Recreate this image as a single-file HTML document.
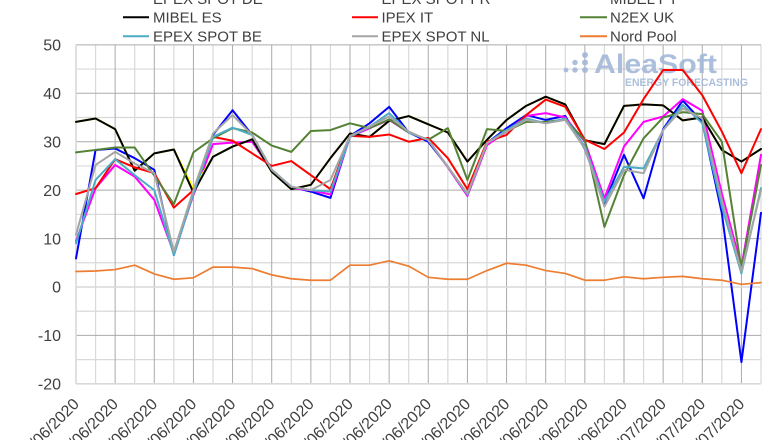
<!DOCTYPE html>
<html><head><meta charset="utf-8"><style>
html,body{margin:0;padding:0;background:#fff;width:780px;height:440px;overflow:hidden;}
svg{display:block;overflow:hidden;}
text{font-family:"Liberation Sans",Arial,sans-serif;}
</style></head><body>
<svg width="780" height="440" viewBox="0 0 780 440" xmlns="http://www.w3.org/2000/svg">
<defs><clipPath id="pg"><rect x="0" y="0" width="780" height="440"/></clipPath></defs>
<g clip-path="url(#pg)">
<rect width="780" height="440" fill="#fff"/>
<g transform="translate(76,287) scale(19.5714,-4.843)" fill="none">
  <path vector-effect="non-scaling-stroke" stroke="#d9d9d9" stroke-width="1.2" d="M0 45H35M0 35H35M0 25H35M0 15H35M0 5H35M0 -5H35M0 -15H35
  M1 -20V50M3 -20V50M5 -20V50M7 -20V50M9 -20V50M11 -20V50M13 -20V50M15 -20V50M17 -20V50M19 -20V50M21 -20V50M23 -20V50M25 -20V50M27 -20V50M29 -20V50M31 -20V50M33 -20V50M35 -20V50"/>
  <path vector-effect="non-scaling-stroke" stroke="#ababab" stroke-width="1" d="M0 50H35M0 40H35M0 30H35M0 20H35M0 10H35M0 -10H35
  M2 -20V50M4 -20V50M6 -20V50M8 -20V50M10 -20V50M12 -20V50M14 -20V50M16 -20V50M18 -20V50M20 -20V50M22 -20V50M24 -20V50M26 -20V50M28 -20V50M30 -20V50M32 -20V50M34 -20V50"/>
  <path vector-effect="non-scaling-stroke" stroke="#d9d9d9" stroke-width="1.6" d="M0 0H35M0 -20H35M0 -20V50"/>
</g>
<g fill="#a3b8d8" opacity="0.9">
  <circle cx="566" cy="70" r="2.4"/>
  <circle cx="575" cy="62.5" r="2.7"/><circle cx="575" cy="70" r="2.7"/>
  <circle cx="585" cy="55" r="3"/><circle cx="585" cy="62.5" r="3"/><circle cx="585" cy="70" r="3"/>
  <text x="594" y="73" font-size="26.5" font-weight="bold" textLength="123" lengthAdjust="spacingAndGlyphs">AleaSoft</text>
  <text x="625" y="86" font-size="11" font-weight="bold" textLength="123" lengthAdjust="spacingAndGlyphs">ENERGY FORECASTING</text>
</g>
<g transform="translate(76,287) scale(19.5714,-4.843)" fill="none" stroke-linejoin="round" stroke-linecap="round">
  <polyline vector-effect="non-scaling-stroke" stroke="#0000ff" stroke-width="2" points="0,5.9 1,28.3 2,28.6 3,26.6 4,24.2 5,6.6 6,19.3 7,31.4 8,36.5 9,31.4 10,24.2 11,20.7 12,19.7 13,18.4 14,31.2 15,33.8 16,37.2 17,31.9 18,30.0 19,24.8 20,19.1 21,29.7 22,32.8 23,35.5 24,34.5 25,35.3 26,28.5 27,17.3 28,27.3 29,18.3 30,32.6 31,38.5 32,34.1 33,15.2 34,-15.5 35,15.3"/>
  <polyline vector-effect="non-scaling-stroke" stroke="#ff00ff" stroke-width="2" points="0,9.5 1,20.4 2,25.2 3,22.8 4,18.0 5,7.0 6,19.0 7,29.5 8,29.8 9,30.0 10,24.0 11,20.4 12,20.0 13,19.1 14,31.0 15,32.8 16,34.5 17,31.9 18,30.4 19,24.7 20,18.8 21,29.3 22,32.1 23,35.3 24,35.9 25,35.0 26,30.0 27,18.3 28,29.0 29,34.1 30,35.2 31,38.8 32,36.4 33,19.3 34,4.2 35,27.3"/>
  <polyline vector-effect="non-scaling-stroke" stroke="#ffff00" stroke-width="2" points="0,34.1 1,34.8 2,32.6 3,24.0 4,27.6 5,28.4 6,20.3 7,26.9 8,29.0 9,30.5 10,23.8 11,20.2 12,21.1 13,26.6 14,31.7 15,31.0 16,34.3 17,35.3 18,33.6 19,31.9 20,25.9 21,30.4 22,34.5 23,37.4 24,39.3 25,37.7 26,30.3 27,29.5 28,37.4 29,37.7 30,37.5 31,34.4 32,35.0 33,28.3 34,25.9 35,28.5"/>
  <polyline vector-effect="non-scaling-stroke" stroke="#000000" stroke-width="2" points="0,34.1 1,34.8 2,32.6 3,24.0 4,27.6 5,28.4 6,19.5 7,26.9 8,29.0 9,30.5 10,23.8 11,20.2 12,21.1 13,26.6 14,31.7 15,31.0 16,34.3 17,35.3 18,33.6 19,31.9 20,25.9 21,30.4 22,34.5 23,37.4 24,39.3 25,37.7 26,30.3 27,29.5 28,37.4 29,37.7 30,37.5 31,34.4 32,35.0 33,28.3 34,25.9 35,28.5"/>
  <polyline vector-effect="non-scaling-stroke" stroke="#ff0000" stroke-width="2" points="0,19.2 1,20.4 2,26.4 3,24.7 4,23.5 5,16.4 6,20.0 7,31.0 8,30.2 9,27.6 10,25.0 11,26.0 12,23.1 13,20.2 14,31.2 15,31.0 16,31.5 17,30.0 18,30.8 19,26.6 20,20.2 21,30.0 22,31.4 23,35.5 24,38.7 25,37.2 26,30.4 27,28.5 28,31.9 29,38.8 30,44.8 31,44.8 32,39.6 33,32.1 34,23.5 35,32.6"/>
  <polyline vector-effect="non-scaling-stroke" stroke="#548235" stroke-width="2" points="0,27.8 1,28.3 2,28.8 3,28.8 4,23.0 5,17.1 6,27.8 7,30.7 8,32.8 9,31.9 10,29.2 11,27.9 12,32.2 13,32.4 14,33.8 15,32.8 16,34.6 17,31.9 18,30.4 19,32.8 20,22.1 21,32.6 22,32.2 23,34.1 24,34.1 25,34.6 26,30.3 27,12.4 28,23.1 29,30.7 30,35.0 31,36.1 32,35.7 33,30.0 34,3.8 35,25.2"/>
  <polyline vector-effect="non-scaling-stroke" stroke="#4bacc6" stroke-width="2" points="0,9.0 1,22.1 2,26.4 3,23.1 4,20.0 5,6.6 6,19.3 7,31.0 8,32.9 9,31.4 10,24.2 11,20.7 12,20.0 13,19.7 14,31.0 15,33.1 16,35.9 17,31.9 18,30.4 19,24.8 20,19.1 21,29.7 22,32.4 23,34.8 24,33.8 25,34.8 26,29.0 27,17.6 28,24.8 29,24.5 30,32.4 31,37.6 32,33.8 33,16.6 34,2.8 35,20.4"/>
  <polyline vector-effect="non-scaling-stroke" stroke="#a5a5a5" stroke-width="2" points="0,10.8 1,25.2 2,27.9 3,25.5 4,23.5 5,7.3 6,20.0 7,31.7 8,35.5 9,31.4 10,24.2 11,20.7 12,20.0 13,22.1 14,31.2 15,33.1 16,35.2 17,32.1 18,30.3 19,24.8 20,19.3 21,29.7 22,32.1 23,34.5 24,33.8 25,34.5 26,28.6 27,16.6 28,24.2 29,23.5 30,32.4 31,36.9 32,34.8 33,18.0 34,3.2 35,20.0"/>
  <polyline vector-effect="non-scaling-stroke" stroke="#ed7d31" stroke-width="1.7" points="0,3.2 1,3.3 2,3.6 3,4.5 4,2.7 5,1.6 6,1.9 7,4.1 8,4.1 9,3.8 10,2.5 11,1.7 12,1.4 13,1.4 14,4.5 15,4.5 16,5.4 17,4.3 18,2.0 19,1.6 20,1.6 21,3.4 22,4.9 23,4.5 24,3.4 25,2.8 26,1.4 27,1.4 28,2.1 29,1.7 30,2.0 31,2.2 32,1.7 33,1.4 34,0.55 35,0.9"/>
</g>
<g font-size="16" fill="#404040" text-anchor="end">
  <text x="61" y="50.6">50</text>
  <text x="61" y="99">40</text>
  <text x="61" y="147.4">30</text>
  <text x="61" y="195.8">20</text>
  <text x="61" y="244.3">10</text>
  <text x="61" y="292.7">0</text>
  <text x="61" y="341.1">-10</text>
  <text x="61" y="389.6">-20</text>
</g>
<g font-size="16" fill="#404040" text-anchor="end">
  <text transform="translate(80,405) rotate(-45)">01/06/2020</text>
  <text transform="translate(119.1,405) rotate(-45)">03/06/2020</text>
  <text transform="translate(158.3,405) rotate(-45)">05/06/2020</text>
  <text transform="translate(197.4,405) rotate(-45)">07/06/2020</text>
  <text transform="translate(236.6,405) rotate(-45)">09/06/2020</text>
  <text transform="translate(275.7,405) rotate(-45)">11/06/2020</text>
  <text transform="translate(314.9,405) rotate(-45)">13/06/2020</text>
  <text transform="translate(354,405) rotate(-45)">15/06/2020</text>
  <text transform="translate(393.1,405) rotate(-45)">17/06/2020</text>
  <text transform="translate(432.3,405) rotate(-45)">19/06/2020</text>
  <text transform="translate(471.4,405) rotate(-45)">21/06/2020</text>
  <text transform="translate(510.6,405) rotate(-45)">23/06/2020</text>
  <text transform="translate(549.7,405) rotate(-45)">25/06/2020</text>
  <text transform="translate(588.9,405) rotate(-45)">27/06/2020</text>
  <text transform="translate(628,405) rotate(-45)">29/06/2020</text>
  <text transform="translate(667.1,405) rotate(-45)">01/07/2020</text>
  <text transform="translate(706.3,405) rotate(-45)">03/07/2020</text>
  <text transform="translate(745.4,405) rotate(-45)">05/07/2020</text>
</g>
<g stroke-width="2">
  <line x1="123" y1="-1.7" x2="149" y2="-1.7" stroke="#0000ff"/>
  <line x1="352" y1="-1.7" x2="378" y2="-1.7" stroke="#ff00ff"/>
  <line x1="580" y1="-1.7" x2="607" y2="-1.7" stroke="#ffff00"/>
  <line x1="123" y1="17.3" x2="149" y2="17.3" stroke="#000000"/>
  <line x1="352" y1="17.3" x2="378" y2="17.3" stroke="#ff0000"/>
  <line x1="580" y1="17.3" x2="607" y2="17.3" stroke="#548235"/>
  <line x1="123" y1="36.3" x2="149" y2="36.3" stroke="#4bacc6"/>
  <line x1="352" y1="36.3" x2="378" y2="36.3" stroke="#a5a5a5"/>
  <line x1="580" y1="36.3" x2="607" y2="36.3" stroke="#ed7d31"/>
</g>
<g font-size="15" fill="#404040">
  <text x="153" y="3.8">EPEX SPOT DE</text>
  <text x="381.5" y="3.8">EPEX SPOT FR</text>
  <text x="610" y="3.8">MIBEL PT</text>
  <text x="153" y="22.7">MIBEL ES</text>
  <text x="381.5" y="22.7">IPEX IT</text>
  <text x="610" y="22.7">N2EX UK</text>
  <text x="153" y="41.7">EPEX SPOT BE</text>
  <text x="381.5" y="41.7">EPEX SPOT NL</text>
  <text x="610" y="41.7">Nord Pool</text>
</g>
</g>
</svg>
</body></html>
